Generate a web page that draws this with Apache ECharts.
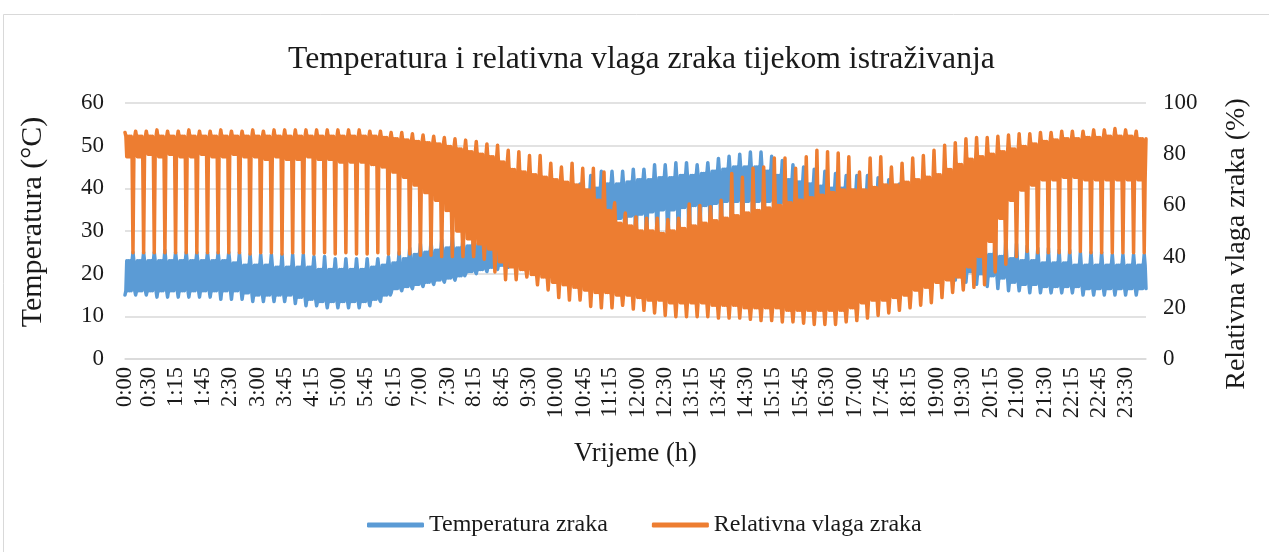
<!DOCTYPE html>
<html><head><meta charset="utf-8">
<script src="https://cdn.jsdelivr.net/npm/echarts@6/dist/echarts.min.js"></script>
<style>html,body{margin:0;padding:0;background:#fff}#c{width:1269px;height:552px}</style>
</head><body><div id="c"></div>
<script>
// one category per 15-minute time slot (each slot holds several days of readings)
const slotTimes = [
'0:00','0:15','0:30','0:45','1:00','1:15','1:30','1:45','2:00','2:15','2:30','2:45',
'3:00','3:15','3:30','3:45','4:00','4:15','4:30','4:45','5:00','5:15','5:30','5:45',
'6:00','6:15','6:30','6:45','7:00','7:15','7:30','7:45','8:00','8:15','8:30','8:45',
'9:00','9:15','9:30','9:45','10:00','10:15','10:30','10:45','11:00','11:15','11:30','11:45',
'12:00','12:15','12:30','12:45','13:00','13:15','13:30','13:45','14:00','14:15','14:30','14:45',
'15:00','15:15','15:30','15:45','16:00','16:15','16:30','16:45','17:00','17:15','17:30','17:45',
'18:00','18:15','18:30','18:45','19:00','19:15','19:30','19:45','20:00','20:15','20:30','20:45',
'21:00','21:15','21:30','21:45','22:00','22:15','22:30','22:45','23:00','23:15','23:30','23:45'];
const tickLabels = ['0:00','0:30','1:15','1:45','2:30','3:00','3:45','4:15','5:00','5:45','6:15','7:00',
'7:30','8:15','8:45','9:30','10:00','10:45','11:15','12:00','12:30','13:15','13:45','14:30','15:15',
'15:45','16:30','17:00','17:45','18:15','19:00','19:30','20:15','21:00','21:30','22:15','22:45','23:30'];

// Relative humidity (%) per slot: highest day, upper band, lower band, lowest day
const rhHi = [88.5,89,89,89.5,89,89,89.5,89, 89,89.5,89,89,89.5,89,89.5,89.5, 89.5,89.5,89.5,89.5,89.5,89.5,89.5,89,
 89,88.5,88.5,88,87.5,87,86.5,86, 85.5,85,84,83.5,81.5,81,79.5,79.5, 76.5,75,76.5,74.5,74.5,73,61,57,
 55.5,55,55,54.5,55,60.5,60,59.5, 62,72.5,71,74.5,75,78.5,78.5,74.5, 79,81.5,81,80.5,79,73,78.5,79,
 75,76.5,78.5,79.5,81.5,83.5,84.5,86, 86.5,86.5,87,87.5,88,88,88.5,88.5, 89,89,89,89.5,89.5,90,89.5,89];
const rhTop = [87,87,87,87,87,87,87,87, 87,87,87,87,87,87,87,87, 87,87,87,87,87,87,87,87,
 86.5,86,85.5,85,84.5,84,83,82, 81,80,79,77,74,73,72,71, 70,69,68,66,62,58,53,52,
 50,50,49,50,51,52,53,54, 55,56,57,58,59,60,61,62, 63,64,65,66,66,66,67,68,
 68,69,70,71,72,74,76,78, 79,80,81,82,83,84,85,85.5, 86,86,86.5,86.5,87,87,87,86];
const rhBot = [79,79,80,79,80,79,79,80, 79,79,80,79,79,78,79,78, 78,79,78,78,77,77,77,76,
 75,73,71,68,65,62,58,50, 47,45,43,38,36,35,33,32, 30,29,28,27,26,26,25,25,
 24,23,23,22,22,22,22,21, 21,21,20,20,20,20,19,19, 19,19,19,19,20,22,23,23,
 24,25,27,28,30,31,32,36, 40,46,55,62,66,68,70,70, 71,71,70,70,70,70,70,70];
const rhLow = [41.5,41.5,41.5,41.5,41.5,41.5,41.5,41.5, 41.5,41.5,41.5,41,41.5,41.5,41,41.5, 41.5,41,41.5,41,41.5,41,41,41.5,
 41,41,41,40.5,40.5,40,40,40, 40,39,34,31,31,32,29,27, 24,23,23,20.5,20,20,21,19.5,
 19,18,17,16.5,16.5,16.5,16.5,16, 16,16,15.5,15,15,14.5,14.5,14, 13.5,13.5,13.5,14.5,15,16,17,18,
 19,20,21,22,24,26,27,28, 29,34,37,40,42,41.5,41.5,41.5, 41.5,42,41.5,41.5,41.5,41.5,41.5,41.5];

// Air temperature (°C) per slot: highest day, upper band, lower band, lowest day
const tHi = [25,25,25,25.5,25,25,25,25, 25,25,25,24.5,24.5,24.5,24.5,24.5, 24.5,24,24,23.5,23.5,23.5,23.5,23.5,
 24,25,26,27,27.5,28,28.5,28, 28.5,29,29.5,30,31,32,34,36, 38,40,41,43,44,44,44,44.5,
 44.5,45.5,45.5,46,46,45.5,46,47, 47.5,48,48.5,48.5,47.5,46.5,45.5,45, 44.5,44,43.5,43,43,43,42.5,42,
 41,39,37,35,33,31,30,30, 31,29,28,27,26.5,26,26,25.5, 25.5,25,25,25,24.5,24.5,24.5,24.5];
const tTop = [23,23,23,23,23,23,23,23, 23,23,22.5,22,22,22,21.5,21.5, 21.5,21.5,21,21,21,21,21,21.5,
 22,22.5,23.5,24.5,25,25.5,26,26, 26.5,27,28,29,30,31,32,33, 34,35,37,39,40,41,41,41.5,
 42,42,42.5,42.5,43,43,43.5,44, 44.5,45,45,45,44,43,42,41.5, 41,40.5,40,40,39.5,39,38.5,38,
 37,35,33,31,29,27,26,25, 25,24.5,24,23.5,23,23,22.5,22.5, 22.5,22,22,22,22,22,22,22];
const tBot = [16,16,16,16,16,16,16,16, 16,16,16,15.5,15,15,15,15, 14.5,14,13.5,13.5,13.5,13.5,13.5,14,
 15,16.5,17,17.5,18,18.5,19,19.5, 20.5,21,21.5,22,23,24,25,26, 27,28,29,30,31,32,33,33.5,
 34,34.5,35,35,35.5,36,36,36.5, 37,37,37,37,37,36.5,36,35.5, 35,34.5,34,33.5,33,32,31,30,
 29,27,25,24,23,22,21,20.5, 20,19.5,19,18,17.5,17.5,17,17, 17,17,16.5,16.5,16.5,16.5,16.5,16.5];
const tLow = [15,15,15,14.5,14.5,14.5,14.5,14.5, 14.5,14,14,14,13.5,13.5,13.5,13.5, 13,12.5,12.5,12,12,12,12,12.5,
 13.5,15.5,16,16.5,17,17.5,18,18.5, 19.5,20,20.5,21,21.5,22,22.5,23, 23.5,24,24.5,25,25.5,26,26,26,
 26,26,26,26,26,26,26,26, 26,26,26,26,26,26,26,26, 26,26,25.5,25.5,25,25,25,24,
 23,22,21,20,19.5,19,18.5,18, 17.5,17,16.5,16,16,15.5,15.5,15.5, 15.5,15.5,15,15,15,15,15,15];

// order of the days inside each time slot
const xData = [], tData = [], rhData = [];
for (let s = 0; s < slotTimes.length; s++) {
  const o = [rhHi[s], rhTop[s], rhBot[s], rhTop[s], rhBot[s], rhTop[s], rhBot[s], rhTop[s], rhBot[s], rhLow[s], rhBot[s], rhTop[s]];
  const b = [tLow[s], tBot[s], tTop[s], tBot[s], tTop[s], tBot[s], tTop[s], tBot[s], tTop[s], tHi[s], tTop[s], tBot[s]];
  for (let k = 0; k < o.length; k++) {
    xData.push(slotTimes[s] + '#' + k);
    rhData.push(o[k]);
    tData.push(b[k]);
  }
}
// labels every ~30.6 readings, as in the original category axis
const labelEvery = 30.6;
const labelAt = {};
tickLabels.forEach(function (t, i) { labelAt[Math.max(0, Math.round(i * labelEvery - 3.4))] = t; });

const FONT = 'Liberation Serif';
const TXT = '#1a1a1a';
const chart = echarts.init(document.getElementById('c'), null, {renderer: 'canvas'});
chart.setOption({
  animation: false,
  backgroundColor: '#ffffff',
  graphic: [
    {type: 'rect', shape: {x: 3.5, y: 14.5, width: 1280, height: 560},
     style: {fill: 'none', stroke: '#d9d9d9', lineWidth: 1}, silent: true},
    {type: 'text', x: 33, y: 222, rotation: Math.PI / 2, silent: true,
     style: {text: 'Temperatura (°C)', font: '30px "Liberation Serif"', fill: TXT, align: 'center', verticalAlign: 'middle'}},
    {type: 'text', x: 1237, y: 244, rotation: Math.PI / 2, silent: true,
     style: {text: 'Relativna vlaga zraka (%)', font: '28px "Liberation Serif"', fill: TXT, align: 'center', verticalAlign: 'middle'}}
  ],
  title: {text: 'Temperatura i relativna vlaga zraka tijekom istraživanja', left: 283, top: 39,
    textStyle: {fontFamily: FONT, fontSize: 31.7, fontWeight: 'normal', color: TXT}},
  legend: {left: 362, top: 508, itemWidth: 57, itemHeight: 5, itemGap: 44,
    icon: 'roundRect',
    textStyle: {fontFamily: FONT, fontSize: 24, color: TXT},
    data: ['Temperatura zraka', 'Relativna vlaga zraka']},
  grid: {left: 125, right: 123, top: 103, bottom: 193},
  xAxis: {type: 'category', data: xData, boundaryGap: false,
    name: 'Vrijeme (h)', nameLocation: 'middle', nameGap: 82,
    nameTextStyle: {fontFamily: FONT, fontSize: 26.5, color: TXT},
    axisLine: {lineStyle: {color: '#d9d9d9', width: 1.5}},
    axisTick: {show: false},
    axisLabel: {rotate: 90, margin: 8, fontFamily: FONT, fontSize: 22.5, color: TXT,
      showMinLabel: true, showMaxLabel: true,
      interval: function (i) { return labelAt[i] !== undefined; },
      formatter: function (v, i) { return labelAt[i] || ''; }}},
  yAxis: [
    {type: 'value', min: 0, max: 60, interval: 10,
     axisLine: {show: false}, axisTick: {show: false},
     axisLabel: {margin: 21, fontFamily: FONT, fontSize: 23, color: TXT},
     splitLine: {lineStyle: {color: '#d9d9d9', width: 1.5}}},
    {type: 'value', min: 0, max: 100, interval: 20, position: 'right',
     axisLine: {show: false}, axisTick: {show: false},
     axisLabel: {margin: 17, fontFamily: FONT, fontSize: 23, color: TXT},
     splitLine: {show: false}}
  ],
  series: [
    {name: 'Temperatura zraka', type: 'line', yAxisIndex: 0, data: tData,
     showSymbol: false, symbol: 'none', sampling: null, color: '#5B9BD5',
     lineStyle: {width: 3.5, color: '#5B9BD5', cap: 'round', join: 'round'}},
    {name: 'Relativna vlaga zraka', type: 'line', yAxisIndex: 1, data: rhData,
     showSymbol: false, symbol: 'none', sampling: null, color: '#ED7D31',
     lineStyle: {width: 3.5, color: '#ED7D31', cap: 'round', join: 'round'}}
  ]
});
</script></body></html>
